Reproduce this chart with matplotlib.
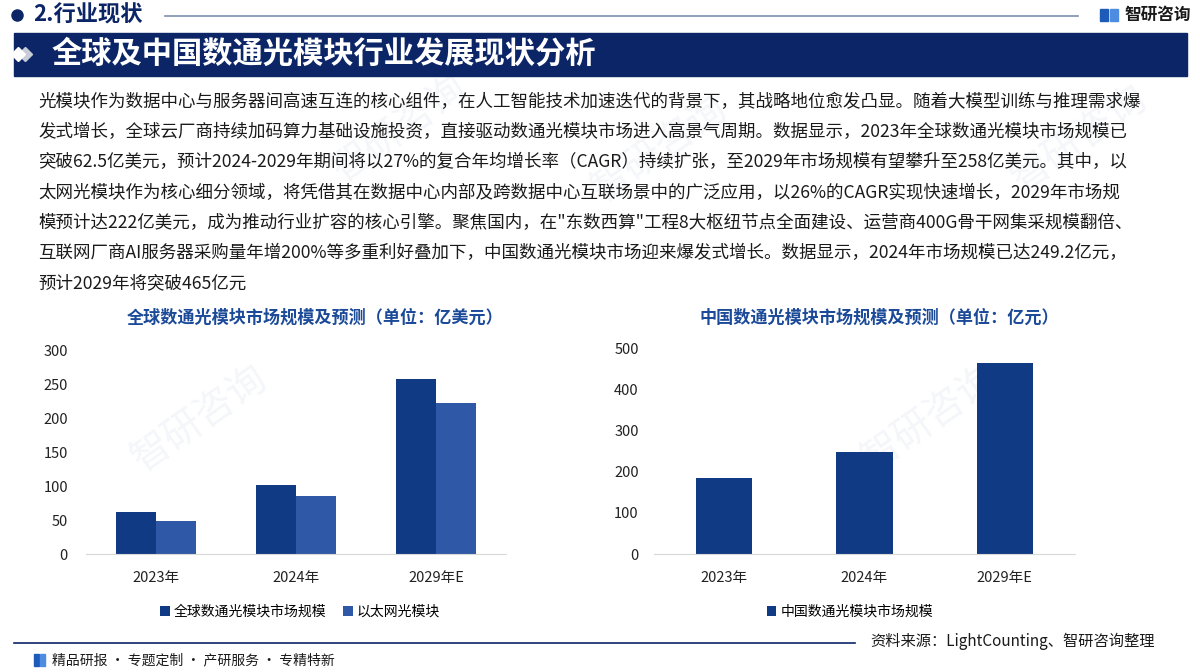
import matplotlib.pyplot as plt
from matplotlib.patches import Rectangle
from matplotlib.lines import Line2D

plt.rcParams['font.family'] = ['Noto Sans CJK SC', 'DejaVu Sans']

# datos
anios = ["2023年", "2024年", "2029年E"]
global_total = [62.5, 101, 258]
ethernet = [49, 85, 222]
china_total = [186, 249.2, 465]

titulo_izq = "全球数通光模块市场规模及预测（单位：亿美元）"
titulo_der = "中国数通光模块市场规模及预测（单位：亿元）"
serie_global = "全球数通光模块市场规模"
serie_eth = "以太网光模块"
serie_china = "中国数通光模块市场规模"

parrafo = [
    "光模块作为数据中心与服务器间高速互连的核心组件，在人工智能技术加速迭代的背景下，其战略地位愈发凸显。随着大模型训练与推理需求爆",
    "发式增长，全球云厂商持续加码算力基础设施投资，直接驱动数通光模块市场进入高景气周期。数据显示，2023年全球数通光模块市场规模已",
    "突破62.5亿美元，预计2024-2029年期间将以27%的复合年均增长率（CAGR）持续扩张，至2029年市场规模有望攀升至258亿美元。其中，以",
    "太网光模块作为核心细分领域，将凭借其在数据中心内部及跨数据中心互联场景中的广泛应用，以26%的CAGR实现快速增长，2029年市场规",
    "模预计达222亿美元，成为推动行业扩容的核心引擎。聚焦国内，在\"东数西算\"工程8大枢纽节点全面建设、运营商400G骨干网集采规模翻倍、",
    "互联网厂商AI服务器采购量年增200%等多重利好叠加下，中国数通光模块市场迎来爆发式增长。数据显示，2024年市场规模已达249.2亿元，",
    "预计2029年将突破465亿元",
]

AZUL_OSCURO = "#103A84"
AZUL_CLARO = "#2F58A6"
NAVY = "#0B2566"
TITULO = "#1B4A98"

W, H = 1200, 672
fig = plt.figure(figsize=(12, 6.72), dpi=100)


def fx(x):
    return x / W


def fy(y):
    return 1 - y / H


# marcas de agua (muy tenues, detrás de todo)
for (x, y) in [(200, 420), (930, 420), (660, 150), (400, 130), (1080, 140)]:
    fig.text(fx(x), fy(y), "智研咨询", fontsize=28, color="#F4F6FA", rotation=35,
             ha="center", va="center", zorder=-5)

# encabezado
fig.add_artist(Line2D([fx(17)], [fy(15)], marker="o", markersize=8, color=NAVY,
                      transform=fig.transFigure))
fig.text(fx(33), fy(15), "2.行业现状", fontsize=16, fontweight="bold", color=NAVY,
         ha="left", va="center")
fig.add_artist(Line2D([fx(165), fx(1078)], [fy(16), fy(16)], color="#7F8FB0", lw=1.2,
                      transform=fig.transFigure))
fig.add_artist(Rectangle((fx(1100), fy(21)), 8 / W, 12 / H, color="#1E5BB8",
                         transform=fig.transFigure))
fig.add_artist(Rectangle((fx(1110), fy(21)), 8 / W, 12 / H, color="#4D8CE0",
                         transform=fig.transFigure))
fig.text(fx(1124), fy(15), "智研咨询", fontsize=12, fontweight="bold", color="#1a1a1a",
         ha="left", va="center")

# banda del título
fig.add_artist(Rectangle((fx(14), fy(76)), 1173 / W, 43 / H, color=NAVY,
                         transform=fig.transFigure))
fig.add_artist(Line2D([fx(25)], [fy(54)], marker="D", markersize=7, color="#C8CCD6",
                      transform=fig.transFigure))
fig.add_artist(Line2D([fx(18)], [fy(54)], marker="D", markersize=7, color="white",
                      transform=fig.transFigure))
fig.text(fx(52), fy(54), "全球及中国数通光模块行业发展现状分析", fontsize=21.8, fontweight="bold",
         color="white", ha="left", va="center")

# texto
for i, linea in enumerate(parrafo):
    fig.text(fx(38), fy(102 + 30.2 * i), linea, fontsize=12.6, color="#1a1a1a",
             ha="left", va="center")

# gráfico izquierdo
ax1 = fig.add_axes([fx(86), fy(554), 420 / W, 204 / H])
pos = list(range(len(anios)))
ancho = 0.2857
b1 = ax1.bar([p - ancho / 2 for p in pos], global_total, width=ancho, color=AZUL_OSCURO,
             label=serie_global)
b2 = ax1.bar([p + ancho / 2 for p in pos], ethernet, width=ancho, color=AZUL_CLARO,
             label=serie_eth)
ax1.set_xlim(-0.5, 2.5)
ax1.set_ylim(0, 300)
ax1.set_yticks([0, 50, 100, 150, 200, 250, 300])
ax1.set_xticks(pos)
ax1.set_xticklabels(anios)

# gráfico derecho
ax2 = fig.add_axes([fx(654), fy(554), 421 / W, 205 / H])
b3 = ax2.bar(pos, china_total, width=0.4, color=AZUL_OSCURO, label=serie_china)
ax2.set_xlim(-0.5, 2.5)
ax2.set_ylim(0, 500)
ax2.set_yticks([0, 100, 200, 300, 400, 500])
ax2.set_xticks(pos)
ax2.set_xticklabels(anios)

for ax in (ax1, ax2):
    ax.patch.set_alpha(0)
    for lado in ("top", "right", "left"):
        ax.spines[lado].set_visible(False)
    ax.spines["bottom"].set_color("#D9D9D9")
    ax.tick_params(axis="both", length=0, labelsize=10.5, colors="#222222")
    ax.tick_params(axis="x", pad=12)
ax1.tick_params(axis="y", pad=13)
ax2.tick_params(axis="y", pad=11)

fig.text(fx(315), fy(318), titulo_izq, fontsize=12.3, fontweight="bold", color=TITULO,
         ha="center", va="center")
fig.text(fx(879), fy(318), titulo_der, fontsize=12.3, fontweight="bold", color=TITULO,
         ha="center", va="center")

fig.legend(handles=[b1, b2], loc="center", bbox_to_anchor=(fx(300), fy(612)), ncol=2,
           frameon=False, fontsize=10, handlelength=0.7, handleheight=0.7,
           handletextpad=0.3, columnspacing=1.2)
fig.legend(handles=[b3], loc="center", bbox_to_anchor=(fx(850), fy(612)), ncol=1,
           frameon=False, fontsize=10, handlelength=0.7, handleheight=0.7,
           handletextpad=0.3)

# pie
fig.add_artist(Line2D([fx(14), fx(855)], [fy(643), fy(643)], color=NAVY, lw=1.2,
                      transform=fig.transFigure))
fig.text(fx(870), fy(641), "资料来源：LightCounting、智研咨询整理", fontsize=11, color="#1a1a1a",
         ha="left", va="center")
fig.add_artist(Rectangle((fx(34), fy(666)), 5 / W, 12 / H, color="#1E5BB8",
                         transform=fig.transFigure))
fig.add_artist(Rectangle((fx(40), fy(666)), 5 / W, 12 / H, color="#4D8CE0",
                         transform=fig.transFigure))
fig.text(fx(52), fy(660), "精品研报 · 专题定制 · 产研服务 · 专精特新", fontsize=10, color="#1a1a1a",
         ha="left", va="center")

fig.savefig("out.png", dpi=100)
